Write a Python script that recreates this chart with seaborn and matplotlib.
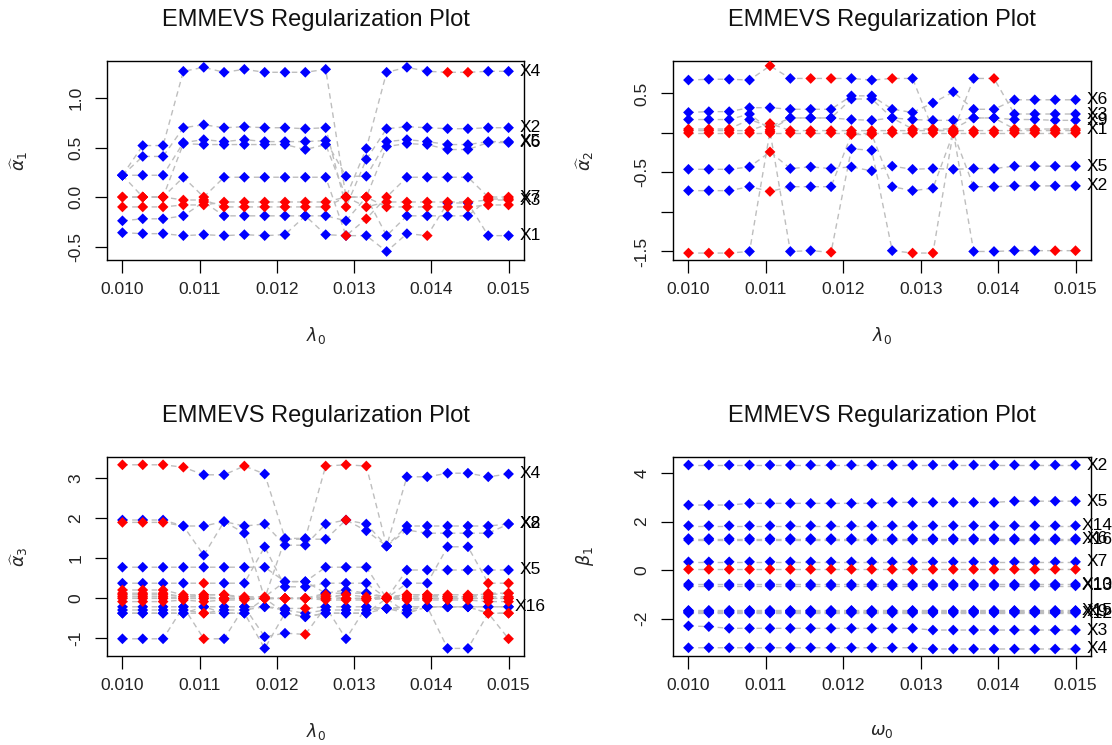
import matplotlib
matplotlib.use("Agg")
import matplotlib.pyplot as plt
import pandas as pd
import seaborn as sns

# tuning-parameter grid (shared by all four panels)
lam = [0.010000, 0.010263, 0.010526, 0.010789, 0.011053, 0.011316, 0.011579,
       0.011842, 0.012105, 0.012368, 0.012632, 0.012895, 0.013158, 0.013421,
       0.013684, 0.013947, 0.014211, 0.014474, 0.014737, 0.015000]
x_ticks = [0.010, 0.011, 0.012, 0.013, 0.014, 0.015]
x_ticklabels = ["0.010", "0.011", "0.012", "0.013", "0.014", "0.015"]

# ---- alpha_1 paths ----
a1_names = ["X4", "X2", "X5", "X6", "X7", "X1", "X8", "X3", "X9"]
a1_tags = ["X4", "X2", "X5", "X6", "X7", "X1", "", "X3", ""]
a1_vals = [
    [0.22, 0.52, 0.52, 1.27, 1.31, 1.26, 1.29, 1.26, 1.26, 1.26, 1.29, 0.00, 0.49, 1.26, 1.31, 1.27, 1.26, 1.26, 1.27, 1.27],
    [0.22, 0.41, 0.41, 0.70, 0.73, 0.70, 0.71, 0.70, 0.70, 0.69, 0.70, -0.10, 0.38, 0.69, 0.71, 0.70, 0.69, 0.69, 0.70, 0.70],
    [0.22, 0.22, 0.22, 0.55, 0.58, 0.56, 0.58, 0.56, 0.56, 0.56, 0.57, 0.21, 0.21, 0.56, 0.58, 0.56, 0.53, 0.53, 0.56, 0.56],
    [0.22, 0.00, 0.00, 0.54, 0.53, 0.53, 0.53, 0.53, 0.53, 0.48, 0.53, 0.00, 0.00, 0.51, 0.54, 0.53, 0.48, 0.48, 0.55, 0.55],
    [0.00, 0.00, 0.00, 0.20, 0.00, 0.20, 0.20, 0.20, 0.20, 0.20, 0.20, -0.39, -0.22, 0.00, 0.20, 0.20, 0.20, 0.20, 0.00, 0.00],
    [-0.36, -0.37, -0.37, -0.39, -0.38, -0.39, -0.38, -0.39, -0.38, -0.19, -0.38, -0.39, -0.39, -0.55, -0.37, -0.39, -0.06, -0.06, -0.39, -0.39],
    [-0.24, -0.22, -0.22, -0.19, -0.05, -0.19, -0.19, -0.19, -0.19, -0.19, -0.19, -0.24, 0.00, -0.39, -0.19, -0.19, -0.19, -0.19, -0.02, -0.02],
    [-0.10, -0.10, -0.10, -0.08, -0.08, -0.05, -0.05, -0.05, -0.05, -0.05, -0.05, 0.00, -0.10, -0.05, -0.05, -0.05, -0.05, -0.05, -0.03, -0.03],
    [0.00, 0.00, 0.00, -0.03, -0.03, -0.10, -0.10, -0.10, -0.10, -0.10, -0.10, 0.00, 0.00, -0.10, -0.10, -0.10, -0.10, -0.10, -0.08, -0.08],
]
# b = kept (blue), r = shrunk to zero (red)
a1_marks = [
    "bbbbbbbbbbbrbbbbrrbb",
    "bbbbbbbbbbbrbbbbbbbb",
    "bbbbbbbbbbbbbbbbbbbb",
    "brrbbbbbbbbrrbbbbbbb",
    "rrrbrbbbbbbrrrbbbbrr",
    "bbbbbbbbbbbbbbbrbbbb",
    "bbbbrbbbbbbbrbbbbbrr",
    "rrrrrrrrrrrrrrrrrrrr",
    "rrrrrrrrrrrrrrrrrrrr",
]

# ---- alpha_2 paths ----
a2_names = ["X3", "X6", "X9", "X1", "X5", "X2", "X7", "X4", "X8"]
a2_tags = ["X3", "X6", "X9", "X1", "X5", "X2", "", "", ""]
a2_vals = [
    [0.67, 0.68, 0.68, 0.67, 0.85, 0.69, 0.69, 0.69, 0.69, 0.67, 0.69, 0.69, 0.04, 0.02, 0.69, 0.69, 0.24, 0.24, 0.24, 0.24],
    [0.26, 0.27, 0.27, 0.32, 0.32, 0.30, 0.30, 0.30, 0.47, 0.47, 0.30, 0.26, 0.38, 0.52, 0.30, 0.30, 0.42, 0.42, 0.42, 0.42],
    [0.17, 0.17, 0.17, 0.24, 0.04, 0.19, 0.19, 0.19, 0.43, 0.43, 0.19, 0.17, 0.16, 0.16, 0.19, 0.19, 0.17, 0.17, 0.16, 0.16],
    [0.05, 0.05, 0.05, 0.17, 0.08, 0.19, 0.19, 0.19, 0.17, 0.16, 0.19, 0.05, 0.05, 0.05, 0.19, 0.19, 0.05, 0.05, 0.05, 0.05],
    [-0.46, -0.46, -0.46, -0.43, -0.24, -0.45, -0.43, -0.45, -0.43, -0.48, -0.42, -0.46, -0.45, -0.46, -0.45, -0.45, -0.42, -0.42, -0.42, -0.42],
    [-0.73, -0.73, -0.73, -0.68, -0.74, -0.68, -0.68, -0.68, -0.02, -0.02, -0.68, -0.73, -0.70, 0.00, -0.68, -0.68, -0.67, -0.67, -0.67, -0.67],
    [-1.52, -1.52, -1.52, -1.50, 0.02, -1.50, -1.49, -1.51, -0.20, -0.22, -1.49, -1.52, -1.52, 0.02, -1.50, -1.50, -1.49, -1.49, -1.49, -1.49],
    [0.00, 0.00, 0.00, 0.00, 0.00, 0.00, 0.00, 0.00, 0.00, 0.00, 0.00, 0.00, 0.00, 0.00, 0.00, 0.00, 0.00, 0.00, 0.00, 0.00],
    [0.03, 0.03, 0.03, 0.03, 0.12, 0.03, 0.03, 0.03, 0.03, 0.03, 0.03, 0.03, 0.03, 0.03, 0.03, 0.03, 0.03, 0.03, 0.03, 0.03],
]
a2_marks = [
    "bbbbrbrrbbrbrrbrbbbb",
    "bbbbbbbbbbbbbbbbbbbb",
    "bbbbrbbbbbbbbbbbbbbb",
    "rrrbrbbbbbbrrrbbrrrr",
    "bbbbrbbbbbbbbbbbbbbb",
    "bbbbrbbbrrbbbrbbbbbb",
    "rrrbrbbrbbbrrrbbbbrr",
    "rrrrrrrrrrrrrrrrrrrr",
    "rrrrrrrrrrrrrrrrrrrr",
]

# ---- alpha_3 paths ----
a3_names = ["X4", "X2", "X8", "X5", "X1", "X3", "X6", "X16", "X7",
            "X9", "X10", "X11", "X12", "X13", "X14", "X15"]
a3_tags = ["X4", "X2", "X8", "X5", "", "", "", "X16", "",
           "", "", "", "", "", "", ""]
a3_vals = [
    [3.33, 3.33, 3.33, 3.27, 3.08, 3.08, 3.30, 3.10, 1.49, 1.49, 3.30, 3.33, 3.30, 1.30, 3.03, 3.03, 3.12, 3.12, 3.03, 3.10],
    [1.95, 1.95, 1.95, 1.80, 1.80, 1.91, 1.80, 1.85, 1.32, 1.32, 1.85, 1.95, 1.85, 1.30, 1.80, 1.80, 1.80, 1.80, 1.80, 1.85],
    [1.89, 1.89, 1.89, 1.80, 1.07, 1.91, 1.62, -0.01, 1.47, 1.47, 1.47, 1.95, 1.68, 1.30, 1.70, 1.62, 1.62, 1.62, 1.62, 1.85],
    [0.77, 0.77, 0.77, 0.77, 0.77, 0.77, 0.77, 0.77, 0.41, 0.41, 0.77, 0.77, 0.77, -0.01, 0.70, 0.70, 0.70, 0.70, 0.70, 0.70],
    [0.37, 0.37, 0.37, 0.37, 0.37, 0.37, 0.37, 1.28, 0.28, 0.28, 0.37, 0.37, 0.37, -0.01, 0.37, 0.37, 1.28, 1.28, 0.37, 0.37],
    [-1.02, -1.02, -1.02, -0.22, -1.02, -1.02, -0.22, -0.97, -0.88, -0.91, -0.22, -1.02, -0.22, -0.26, -0.22, -0.22, -1.26, -1.26, -0.38, -1.02],
    [-0.38, -0.38, -0.38, -0.38, -0.38, -0.38, -0.38, -1.26, -0.38, -0.47, -0.38, -0.38, -0.38, -0.01, -0.38, -0.22, -0.22, -0.22, -0.38, -0.38],
    [-0.22, -0.22, -0.22, -0.22, -0.22, -0.22, -0.22, -0.22, -0.26, -0.26, -0.22, -0.22, -0.22, -0.26, -0.22, -0.22, -0.22, -0.22, -0.22, -0.22],
    [0.20, 0.20, 0.20, 0.08, 0.08, 0.08, 0.03, 0.03, 0.41, 0.41, 0.12, 0.20, 0.12, 0.03, 0.08, 0.08, 0.08, 0.08, 0.08, 0.12],
    [0.12, 0.12, 0.12, 0.03, 0.03, -0.01, -0.01, -0.01, -0.01, -0.01, 0.08, -0.01, -0.01, -0.01, 0.03, 0.03, 0.03, 0.03, 0.03, 0.03],
    [0.03, 0.03, 0.03, -0.01, -0.01, -0.01, -0.01, -0.01, -0.01, -0.01, -0.01, -0.01, -0.01, -0.01, -0.01, -0.01, -0.01, -0.01, -0.01, -0.01],
    [-0.09, -0.09, -0.09, -0.05, -0.09, -0.05, -0.05, -0.01, -0.01, -0.01, -0.05, -0.05, -0.05, -0.01, -0.05, -0.05, -0.05, -0.05, -0.09, -0.09],
    [-0.30, -0.30, -0.30, -0.30, -0.38, -0.30, -0.30, -0.22, -0.30, -0.38, -0.30, -0.30, -0.30, -0.26, -0.30, -0.22, -0.22, -0.22, -0.38, -0.38],
    [-0.01, -0.01, -0.01, -0.01, -0.01, -0.01, -0.01, -0.01, -0.01, -0.01, 0.12, 0.12, 0.12, -0.01, -0.01, -0.01, -0.01, -0.01, -0.01, -0.01],
    [-0.38, -0.38, -0.38, -0.38, -0.22, -0.38, -0.38, -0.01, -0.38, -0.47, -0.38, -0.38, -0.38, -0.26, -0.38, -0.22, -0.22, -0.22, -0.22, -0.22],
    [0.08, 0.08, 0.08, 0.03, 0.08, 0.08, -0.01, -0.01, -0.01, -0.01, 0.03, 0.08, 0.03, -0.01, 0.08, 0.08, 0.03, 0.03, 0.12, 0.12],
]
a3_marks = [
    "rrrrbbrbbbrrrbbbbbbb",
    "bbbbbbbbbbbbbbbbbbbb",
    "rrrbbbbrbbbrbbbbbbbb",
    "bbbbbbbbbbbbbrbbbbbb",
    "bbbbrbbbbbbbbrbbbbrr",
    "bbbbrbbbbrbbbbbbbbrr",
    "bbbbrbbbbbbbbrbbbbrr",
    "bbbbbbbbbrbbbbbbbbbb",
    "rrrrrrrrbbbbbrrrrrrr",
    "rrrrrrrrrrrrrrrrrrrr",
    "rrrrrrrrrrrrrrrrrrrr",
    "rrrrrrrrrrrrrrrrrrrr",
    "bbbbrbbbbbbbbbbbbbrr",
    "rrrrrrrrrrbbbrrrrrrr",
    "bbbbbbbrbbbbbbbbbbbb",
    "rrrrrrrrrrrrrrrrrrrr",
]

# ---- beta_1 paths ----
b1_names = ["X2", "X5", "X14", "X6", "X16", "X7", "X8", "X10", "X13",
            "X1", "X15", "X9", "X11", "X12", "X3", "X4"]
b1_tags = ["X2", "X5", "X14", "X6", "X16", "X7", "", "X10", "X13",
           "", "X15", "X9", "", "X12", "X3", "X4"]
b1_vals = [
    [4.33, 4.33, 4.33, 4.33, 4.33, 4.33, 4.33, 4.33, 4.33, 4.33, 4.33, 4.33, 4.33, 4.33, 4.33, 4.33, 4.33, 4.33, 4.33, 4.33],
    [2.68, 2.68, 2.68, 2.75, 2.75, 2.75, 2.75, 2.75, 2.75, 2.75, 2.79, 2.79, 2.79, 2.79, 2.79, 2.79, 2.84, 2.84, 2.84, 2.84],
    [1.83, 1.83, 1.83, 1.83, 1.83, 1.83, 1.83, 1.83, 1.83, 1.83, 1.83, 1.83, 1.83, 1.83, 1.83, 1.83, 1.83, 1.83, 1.83, 1.83],
    [1.30, 1.30, 1.30, 1.30, 1.30, 1.30, 1.30, 1.30, 1.30, 1.30, 1.30, 1.30, 1.30, 1.30, 1.30, 1.30, 1.30, 1.30, 1.30, 1.30],
    [1.24, 1.24, 1.24, 1.24, 1.24, 1.24, 1.24, 1.24, 1.24, 1.24, 1.24, 1.24, 1.24, 1.24, 1.24, 1.24, 1.24, 1.24, 1.24, 1.24],
    [0.34, 0.34, 0.34, 0.34, 0.34, 0.34, 0.34, 0.34, 0.34, 0.34, 0.34, 0.34, 0.34, 0.34, 0.34, 0.34, 0.34, 0.34, 0.34, 0.34],
    [0.03, 0.03, 0.03, 0.03, 0.03, 0.03, 0.03, 0.03, 0.03, 0.03, 0.03, 0.03, 0.03, 0.03, 0.03, 0.03, 0.03, 0.03, 0.03, 0.03],
    [-0.58, -0.58, -0.58, -0.58, -0.58, -0.58, -0.58, -0.58, -0.58, -0.58, -0.58, -0.58, -0.58, -0.58, -0.58, -0.58, -0.58, -0.58, -0.58, -0.58],
    [-0.65, -0.65, -0.65, -0.65, -0.65, -0.65, -0.65, -0.65, -0.65, -0.65, -0.65, -0.65, -0.65, -0.65, -0.65, -0.65, -0.65, -0.65, -0.65, -0.65],
    [-1.66, -1.66, -1.66, -1.66, -1.66, -1.66, -1.66, -1.66, -1.66, -1.66, -1.66, -1.66, -1.66, -1.66, -1.66, -1.66, -1.66, -1.66, -1.66, -1.66],
    [-1.68, -1.68, -1.68, -1.68, -1.68, -1.68, -1.68, -1.68, -1.68, -1.68, -1.68, -1.68, -1.68, -1.68, -1.68, -1.68, -1.68, -1.68, -1.68, -1.68],
    [-1.71, -1.71, -1.71, -1.71, -1.71, -1.71, -1.71, -1.71, -1.71, -1.71, -1.71, -1.71, -1.71, -1.71, -1.71, -1.71, -1.71, -1.71, -1.71, -1.71],
    [-1.74, -1.74, -1.74, -1.74, -1.74, -1.74, -1.74, -1.74, -1.74, -1.74, -1.74, -1.74, -1.74, -1.74, -1.74, -1.74, -1.74, -1.74, -1.74, -1.74],
    [-1.77, -1.77, -1.77, -1.77, -1.77, -1.77, -1.77, -1.77, -1.77, -1.77, -1.77, -1.77, -1.77, -1.77, -1.77, -1.77, -1.77, -1.77, -1.77, -1.77],
    [-2.30, -2.33, -2.40, -2.40, -2.40, -2.40, -2.40, -2.40, -2.40, -2.40, -2.40, -2.40, -2.47, -2.47, -2.47, -2.47, -2.47, -2.47, -2.47, -2.47],
    [-3.20, -3.20, -3.20, -3.20, -3.20, -3.20, -3.20, -3.20, -3.20, -3.20, -3.20, -3.20, -3.25, -3.25, -3.25, -3.25, -3.25, -3.25, -3.25, -3.25],
]
b1_marks = ["bbbbbbbbbbbbbbbbbbbb"] * 6 + ["rrrrrrrrrrrrrrrrrrrr"] + ["bbbbbbbbbbbbbbbbbbbb"] * 9

TITLE = "EMMEVS Regularization Plot"
KEPT, ZERO = "#0000FF", "#FF0000"
PATH_GREY = "#BEBEBE"

sns.set_style("ticks")
plt.rcParams["font.family"] = ["Liberation Sans", "DejaVu Sans"]
plt.rcParams["mathtext.fontset"] = "dejavusans"
plt.rcParams["axes.unicode_minus"] = False

W, H = 1112, 745
fig = plt.figure(figsize=(W / 100, H / 100), dpi=100)


def panel_axes(left, top, right, bottom):
    return fig.add_axes([left / W, 1 - bottom / H, (right - left) / W, (bottom - top) / H])


def long_frame(names, vals, marks):
    rows = []
    for name, path, mk in zip(names, vals, marks):
        for x, y, m in zip(lam, path, mk):
            rows.append((name, x, y, "zero" if m == "r" else "kept"))
    return pd.DataFrame(rows, columns=["variable", "lam", "coef", "state"])


def draw_panel(ax, names, vals, marks, tags, ylim, yticks, ytlabels, ylabel, xlabel):
    df = long_frame(names, vals, marks)
    sns.lineplot(data=df, x="lam", y="coef", units="variable", estimator=None,
                 sort=False, color=PATH_GREY, lw=1.0, linestyle=(0, (4, 3)),
                 ax=ax, legend=False)
    pts = pd.concat([df[df.state == "kept"], df[df.state == "zero"]])
    sns.scatterplot(data=pts, x="lam", y="coef", hue="state",
                    palette={"kept": KEPT, "zero": ZERO}, marker="D", s=30,
                    linewidth=0, legend=False, ax=ax, zorder=3)
    step = lam[1] - lam[0]
    for tag, path in zip(tags, vals):
        if tag:
            ax.text(lam[-1] + 1.08 * step, path[-1], tag, ha="center", va="center",
                    fontsize=12.5, color="black", clip_on=False, zorder=4)

    ax.set_xlim(0.0098, 0.0152)
    ax.set_ylim(*ylim)
    ax.set_xticks(x_ticks)
    ax.set_xticklabels(x_ticklabels)
    ax.set_yticks(yticks)
    ax.set_yticklabels(ytlabels)
    for lab in ax.get_yticklabels():
        lab.set_rotation(90)
        lab.set_va("center")
        lab.set_ha("right")
    ax.tick_params(axis="both", direction="out", length=9, width=0.9,
                   labelsize=12.5, color="black", labelcolor="#222222")
    ax.tick_params(axis="x", pad=7)
    ax.tick_params(axis="y", pad=8)
    for sp in ax.spines.values():
        sp.set_visible(True)
        sp.set_linewidth(1.0)
        sp.set_color("black")
    ax.set_title(TITLE, fontsize=17, pad=25, color="#111111")
    ax.set_xlabel(xlabel, fontsize=12.5)
    ax.set_ylabel(ylabel, fontsize=12.5)
    ax.xaxis.set_label_coords(0.5, -0.377)
    ax.yaxis.set_label_coords(-0.21, 0.5)
    ax.xaxis.label.set_va("center")
    ax.yaxis.label.set_va("center")


ax1 = panel_axes(107, 61, 524, 260)
draw_panel(ax1, a1_names, a1_vals, a1_marks, a1_tags, (-0.636, 1.374),
           [-0.5, 0.0, 0.5, 1.0], ["-0.5", "0.0", "0.5", "1.0"],
           r"$\widehat{\alpha}_1$", r"$\lambda_0$")

ax2 = panel_axes(673, 61, 1091, 260)
draw_panel(ax2, a2_names, a2_vals, a2_marks, a2_tags, (-1.608, 0.911),
           [-1.5, -1.0, -0.5, 0.0, 0.5], ["-1.5", "", "-0.5", "", "0.5"],
           r"$\widehat{\alpha}_2$", r"$\lambda_0$")

ax3 = panel_axes(107, 457, 524, 656)
draw_panel(ax3, a3_names, a3_vals, a3_marks, a3_tags, (-1.45, 3.525),
           [-1, 0, 1, 2, 3], ["-1", "0", "1", "2", "3"],
           r"$\widehat{\alpha}_3$", r"$\lambda_0$")

ax4 = panel_axes(673, 457, 1091, 656)
draw_panel(ax4, b1_names, b1_vals, b1_marks, b1_tags, (-3.54, 4.66),
           [-2, 0, 2, 4], ["-2", "0", "2", "4"],
           r"$\beta_1$", r"$\omega_0$")

fig.savefig("out.png", dpi=100, facecolor="white")
